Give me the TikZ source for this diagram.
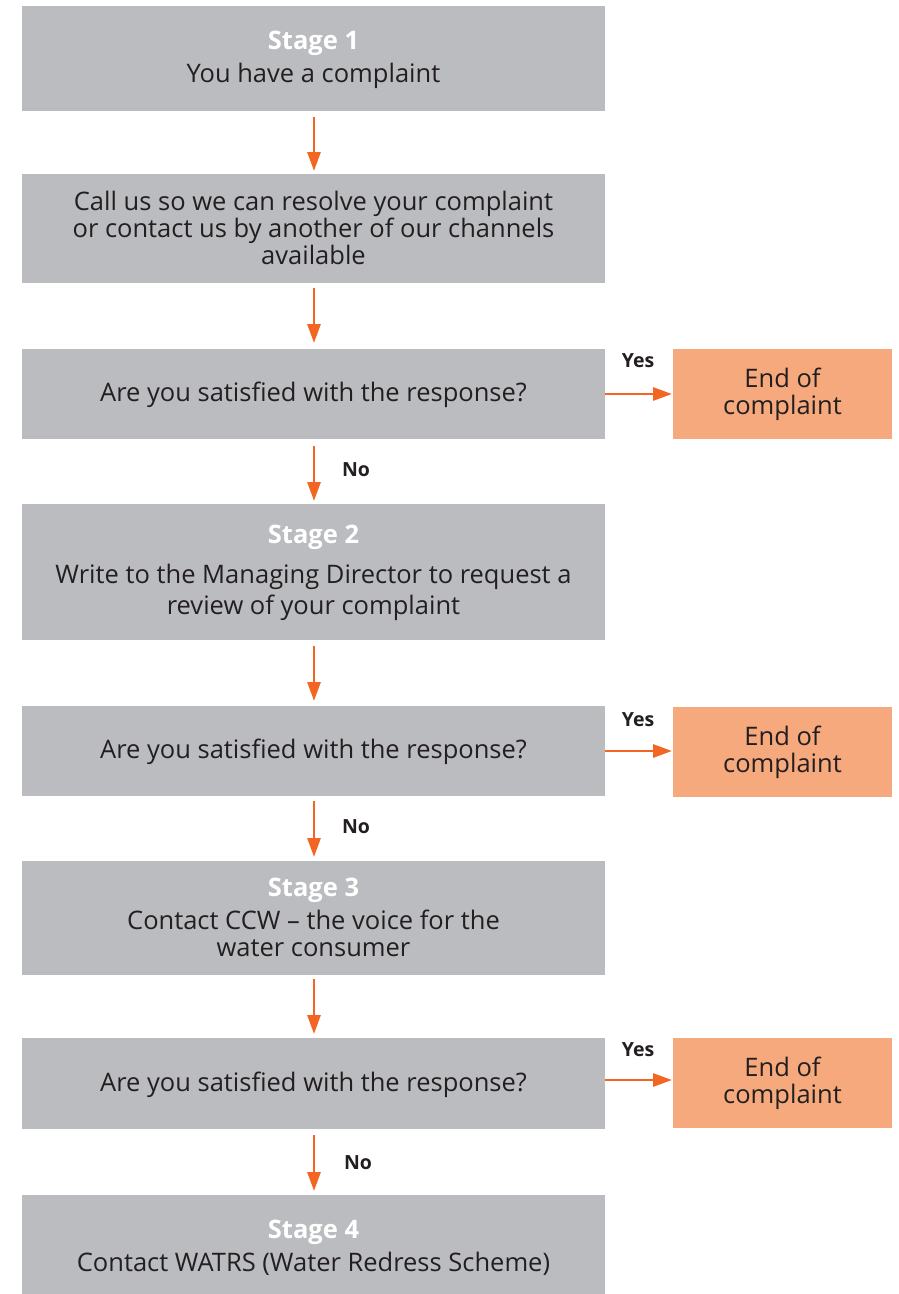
\documentclass[tikz,border=0pt]{standalone}
\usepackage{fontspec}
\setmainfont{Open Sans}
\usetikzlibrary{arrows.meta}
\definecolor{boxgray}{HTML}{BBBCC0}
\definecolor{endorange}{HTML}{F6A97C}
\definecolor{arrorange}{HTML}{F26522}
\definecolor{txt}{HTML}{231F20}
\tikzset{
  gbox/.style={fill=boxgray, draw=none, text=txt, align=center, font=\fontsize{25.5}{27}\selectfont},
  obox/.style={fill=endorange, draw=none, text=txt, align=center, font=\fontsize{25.5}{27}\selectfont},
  flow/.style={draw=arrorange, line width=2.8pt, -{Triangle[width=13pt,length=19pt]}},
  lab/.style={text=txt, font=\fontsize{19.5}{21}\selectfont\bfseries},
}
\newcommand{\stg}[1]{{\color{white}\bfseries #1}}
\begin{document}
\begin{tikzpicture}[x=1pt,y=-1pt]
\useasboundingbox (0,0) rectangle (899,1294);
% gray boxes
\path[gbox] (22,6) rectangle (605,111);
\node[gbox, fill=none] (b1) at (313.5,60) {\stg{Stage 1}\\[6pt]You have a complaint};
\path[gbox] (22,174) rectangle (605,283);
\node[gbox, fill=none] (b2) at (313.5,228) {Call us so we can resolve your complaint\\or contact us by another of our channels\\available};
\path[gbox] (22,349) rectangle (605,439);
\node[gbox, fill=none] (q1) at (313.5,395) {Are you satisfied with the response?};
\path[gbox] (22,504) rectangle (605,640);
\node[gbox, fill=none] (b3) at (313.5,573) {\stg{Stage 2}\\[13pt]Write to the Managing Director to request a\\[4pt]review of your complaint};
\path[gbox] (22,706) rectangle (605,796);
\node[gbox, fill=none] (q2) at (313.5,752) {Are you satisfied with the response?};
\path[gbox] (22,861) rectangle (605,975);
\node[gbox, fill=none] (b4) at (313.5,917) {\stg{Stage 3}\\[6pt]Contact CCW -- the voice for the\\water consumer};
\path[gbox] (22,1038) rectangle (605,1129);
\node[gbox, fill=none] (q3) at (313.5,1084.5) {Are you satisfied with the response?};
\path[gbox] (22,1195) rectangle (605,1294);
\node[gbox, fill=none] (b5) at (313.5,1248) {\stg{Stage 4}\\[6pt]Contact WATRS (Water Redress Scheme)};
% orange boxes
\path[obox] (673,349) rectangle (892,439);
\node[obox, fill=none] (e1) at (782.5,394) {End of\\complaint};
\path[obox] (673,707) rectangle (892,797);
\node[obox, fill=none] (e2) at (782.5,752) {End of\\complaint};
\path[obox] (673,1038) rectangle (892,1128);
\node[obox, fill=none] (e3) at (782.5,1083) {End of\\complaint};
% anchor coordinates
\coordinate (a1s) at (314,117); \coordinate (a1e) at (314,171);
\coordinate (a2s) at (314,288); \coordinate (a2e) at (314,343);
\coordinate (a3s) at (314,446); \coordinate (a3e) at (314,501);
\coordinate (a4s) at (314,646); \coordinate (a4e) at (314,701);
\coordinate (a5s) at (314,801); \coordinate (a5e) at (314,857);
\coordinate (a6s) at (314,979); \coordinate (a6e) at (314,1034);
\coordinate (a7s) at (314,1135); \coordinate (a7e) at (314,1191);
\coordinate (y1s) at (605,394); \coordinate (y1e) at (672,394);
\coordinate (y2s) at (605,751); \coordinate (y2e) at (672,751);
\coordinate (y3s) at (605,1080); \coordinate (y3e) at (672,1080);
% arrows
\draw[flow] (a1s) -- (a1e);
\draw[flow] (a2s) -- (a2e);
\draw[flow] (a3s) -- (a3e);
\draw[flow] (a4s) -- (a4e);
\draw[flow] (a5s) -- (a5e);
\draw[flow] (a6s) -- (a6e);
\draw[flow] (a7s) -- (a7e);
\draw[flow] (y1s) -- (y1e);
\draw[flow] (y2s) -- (y2e);
\draw[flow] (y3s) -- (y3e);
% labels
\node[lab] (yes1) at (638,361) {Yes};
\node[lab] (yes2) at (638,720) {Yes};
\node[lab] (yes3) at (638,1050) {Yes};
\node[lab] (no1) at (356,470) {No};
\node[lab] (no2) at (356,827) {No};
\node[lab] (no3) at (358,1163) {No};
\end{tikzpicture}
\end{document}
